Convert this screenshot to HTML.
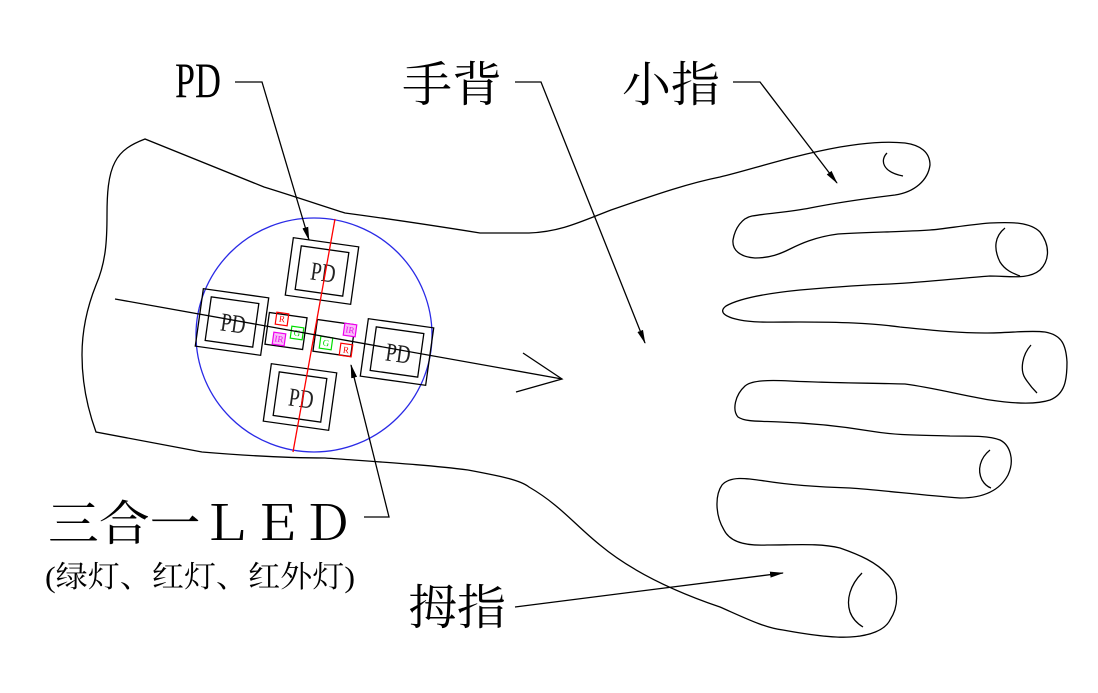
<!DOCTYPE html>
<html><head><meta charset="utf-8"><style>
html,body{margin:0;padding:0;background:#fff;}
svg{display:block;}
.cj{font-family:"Liberation Serif","Noto Serif CJK SC",serif;}
</style></head><body>
<svg width="1098" height="693" viewBox="0 0 1098 693" xmlns="http://www.w3.org/2000/svg">
<defs>
<marker id="ah" markerWidth="14" markerHeight="8" refX="13" refY="4" orient="auto" markerUnits="userSpaceOnUse">
<path d="M0,1 L14,4 L0,7 Z" fill="#000"/>
</marker>
</defs>
<g fill="none" stroke="#000" stroke-width="1.3">
<!-- wrist/hand top + pinky -->
<path d="M145,139 C132,144 121,150 115,162 C108,175 107,195 107,215 C107,240 106,262 96,285 C88,305 82,330 82,355 C82,385 88,410 96,432 L202,452 C250,456 290,458 325,458 C380,462 430,465 468,470 C500,476 520,480 529,487 C560,505 575,525 600,545 C630,570 670,590 720,607 C745,618 765,628 783,630 C810,635 835,638 850,637 C870,636 885,630 890,620 C900,605 898,585 888,575 C876,562 860,555 840,548 C820,543 795,545 767,545 C745,546 730,542 724,530 C715,515 715,495 722,485 C730,476 745,478 765,481 C790,485 817,487 850,488 C880,490 920,495 960,498 C985,498 1000,490 1008,475 C1015,460 1010,445 1000,440 C990,436 975,436 950,436 C925,435 900,436 870,431 C840,426 810,423 780,422 C760,421 745,422 738,417 C732,410 735,395 745,386 C752,380 770,380 790,381 C830,383 870,383 905,384 C935,388 960,395 990,400 C1010,403 1035,405 1050,400 C1065,394 1067,380 1067,362 C1066,345 1062,335 1045,332 C1030,330 1010,333 985,333 C955,333 930,330 900,327 C870,323 840,322 800,322 C775,322 755,323 740,320 C725,317 718,312 726,306 C740,298 770,293 800,290 C835,287 860,285 890,284 C930,282 960,278 990,276 C1010,276 1028,280 1040,270 C1050,260 1050,245 1040,232 C1030,222 1012,222 990,223 C965,225 945,229 930,230 C900,232 870,232 838,234 C815,237 800,244 790,249 C780,254 770,258 755,258 C740,257 732,250 733,240 C735,228 742,218 752,216 C770,213 790,212 810,208 C840,202 870,198 895,195 C915,192 928,180 930,165 C930,152 920,145 905,143 C885,141 865,143 840,147 C790,156 750,170 720,177 C690,183 660,193 611,210 C580,222 560,232 529,233 L480,233 C430,225 390,219 345,213 C320,205 290,195 264,187 Z"/>
<!-- nail arcs -->
<path d="M887,153 C880,160 882,172 903,176"/>
<path d="M1005,228 C995,236 993,248 1000,262 C1005,270 1012,273 1020,276"/>
<path d="M1031,345 C1022,355 1020,370 1025,378 C1030,386 1034,390 1037,393"/>
<path d="M990,450 C980,458 977,470 982,480 C985,485 988,487 991,488"/>
<path d="M862,573 C850,585 846,600 850,612 C853,620 858,624 863,627"/>
</g>
<!-- sensor circle -->
<ellipse cx="314" cy="335" rx="118" ry="117" fill="none" stroke="#2a2ae6" stroke-width="1.3"/>
<!-- PD boxes -->
<g fill="none" stroke="#000" stroke-width="1.3" font-family="Liberation Serif, serif">
<g transform="translate(322,271) rotate(8)"><rect x="-33" y="-29" width="66" height="58"/><rect x="-24" y="-22" width="48" height="44"/></g>
<g transform="translate(232,322) rotate(8)"><rect x="-33" y="-29" width="66" height="58"/><rect x="-24" y="-22" width="48" height="44"/></g>
<g transform="translate(397,352) rotate(8)"><rect x="-33" y="-29" width="66" height="58"/><rect x="-24" y="-22" width="48" height="44"/></g>
<g transform="translate(300,397) rotate(8)"><rect x="-33" y="-29" width="66" height="58"/><rect x="-24" y="-22" width="48" height="44"/></g>
<g transform="translate(286,331) rotate(8)"><rect x="-19" y="-16" width="38" height="32"/></g>
<g transform="translate(334,338) rotate(8)"><rect x="-19" y="-16" width="38" height="32"/></g>
</g>
<g font-family="Liberation Serif, serif" font-size="26" fill="#222" text-anchor="middle">
<text transform="translate(322,281) rotate(8) scale(0.75,1)">PD</text>
<text transform="translate(232,332) rotate(8) scale(0.75,1)">PD</text>
<text transform="translate(397,362) rotate(8) scale(0.75,1)">PD</text>
<text transform="translate(300,407) rotate(8) scale(0.75,1)">PD</text>
</g>
<!-- LED small squares -->
<g stroke-width="1.2" fill="none" font-family="Liberation Serif, serif" font-size="9" text-anchor="middle">
<g transform="translate(282,319) rotate(8)"><rect x="-6" y="-6" width="12" height="12" stroke="#f00"/><text y="3" fill="#f00" stroke="none">R</text></g>
<g transform="translate(279,339) rotate(8)"><rect x="-6" y="-6" width="12" height="12" stroke="#e0e" fill="#f8c0f8"/><text y="3" fill="#e0e" stroke="none">IR</text></g>
<g transform="translate(297,333) rotate(8)"><rect x="-6" y="-6" width="12" height="12" stroke="#0d0"/><text y="3" fill="#0d0" stroke="none">G</text></g>
<g transform="translate(326,343) rotate(8)"><rect x="-6" y="-6" width="12" height="12" stroke="#0d0"/><text y="3" fill="#0d0" stroke="none">G</text></g>
<g transform="translate(350,330) rotate(8)"><rect x="-6" y="-6" width="12" height="12" stroke="#e0e" fill="#f8c0f8"/><text y="3" fill="#e0e" stroke="none">IR</text></g>
<g transform="translate(346,350) rotate(8)"><rect x="-6" y="-6" width="12" height="12" stroke="#f00"/><text y="3" fill="#f00" stroke="none">R</text></g>
</g>
<!-- red line & axis -->
<line x1="335" y1="219" x2="293" y2="452" stroke="#f00" stroke-width="1.3"/>
<g fill="none" stroke="#000" stroke-width="1.3">
<line x1="115" y1="299" x2="562" y2="379"/>
<polyline points="523,353 562,379 516,392"/>
<!-- leaders -->
<polyline points="235,82 262,82 309,240" marker-end="url(#ah)"/>
<polyline points="515,82 541,82 645,343" marker-end="url(#ah)"/>
<polyline points="733,82 760,82 837,183" marker-end="url(#ah)"/>
<polyline points="364,517 389,517 351,365" marker-end="url(#ah)"/>
<polyline points="515,607 783,573" marker-end="url(#ah)"/>
</g>
<!-- labels -->
<g class="cj" fill="#000">
<text transform="translate(175,97) scale(0.72,1)" font-size="50" font-family="Liberation Serif, serif">PD</text>
<text x="402" y="101" font-size="48" textLength="100" lengthAdjust="spacingAndGlyphs">手背</text>
<text x="622" y="101" font-size="48" textLength="98" lengthAdjust="spacingAndGlyphs">小指</text>
<text x="48" y="540" font-size="48" textLength="305" lengthAdjust="spacingAndGlyphs">三合一ＬＥＤ</text>
<text x="45" y="587" font-size="30" textLength="310" lengthAdjust="spacingAndGlyphs">(绿灯、红灯、红外灯)</text>
<text x="408" y="624" font-size="48" textLength="98" lengthAdjust="spacingAndGlyphs">拇指</text>
</g>
</svg>
</body></html>
